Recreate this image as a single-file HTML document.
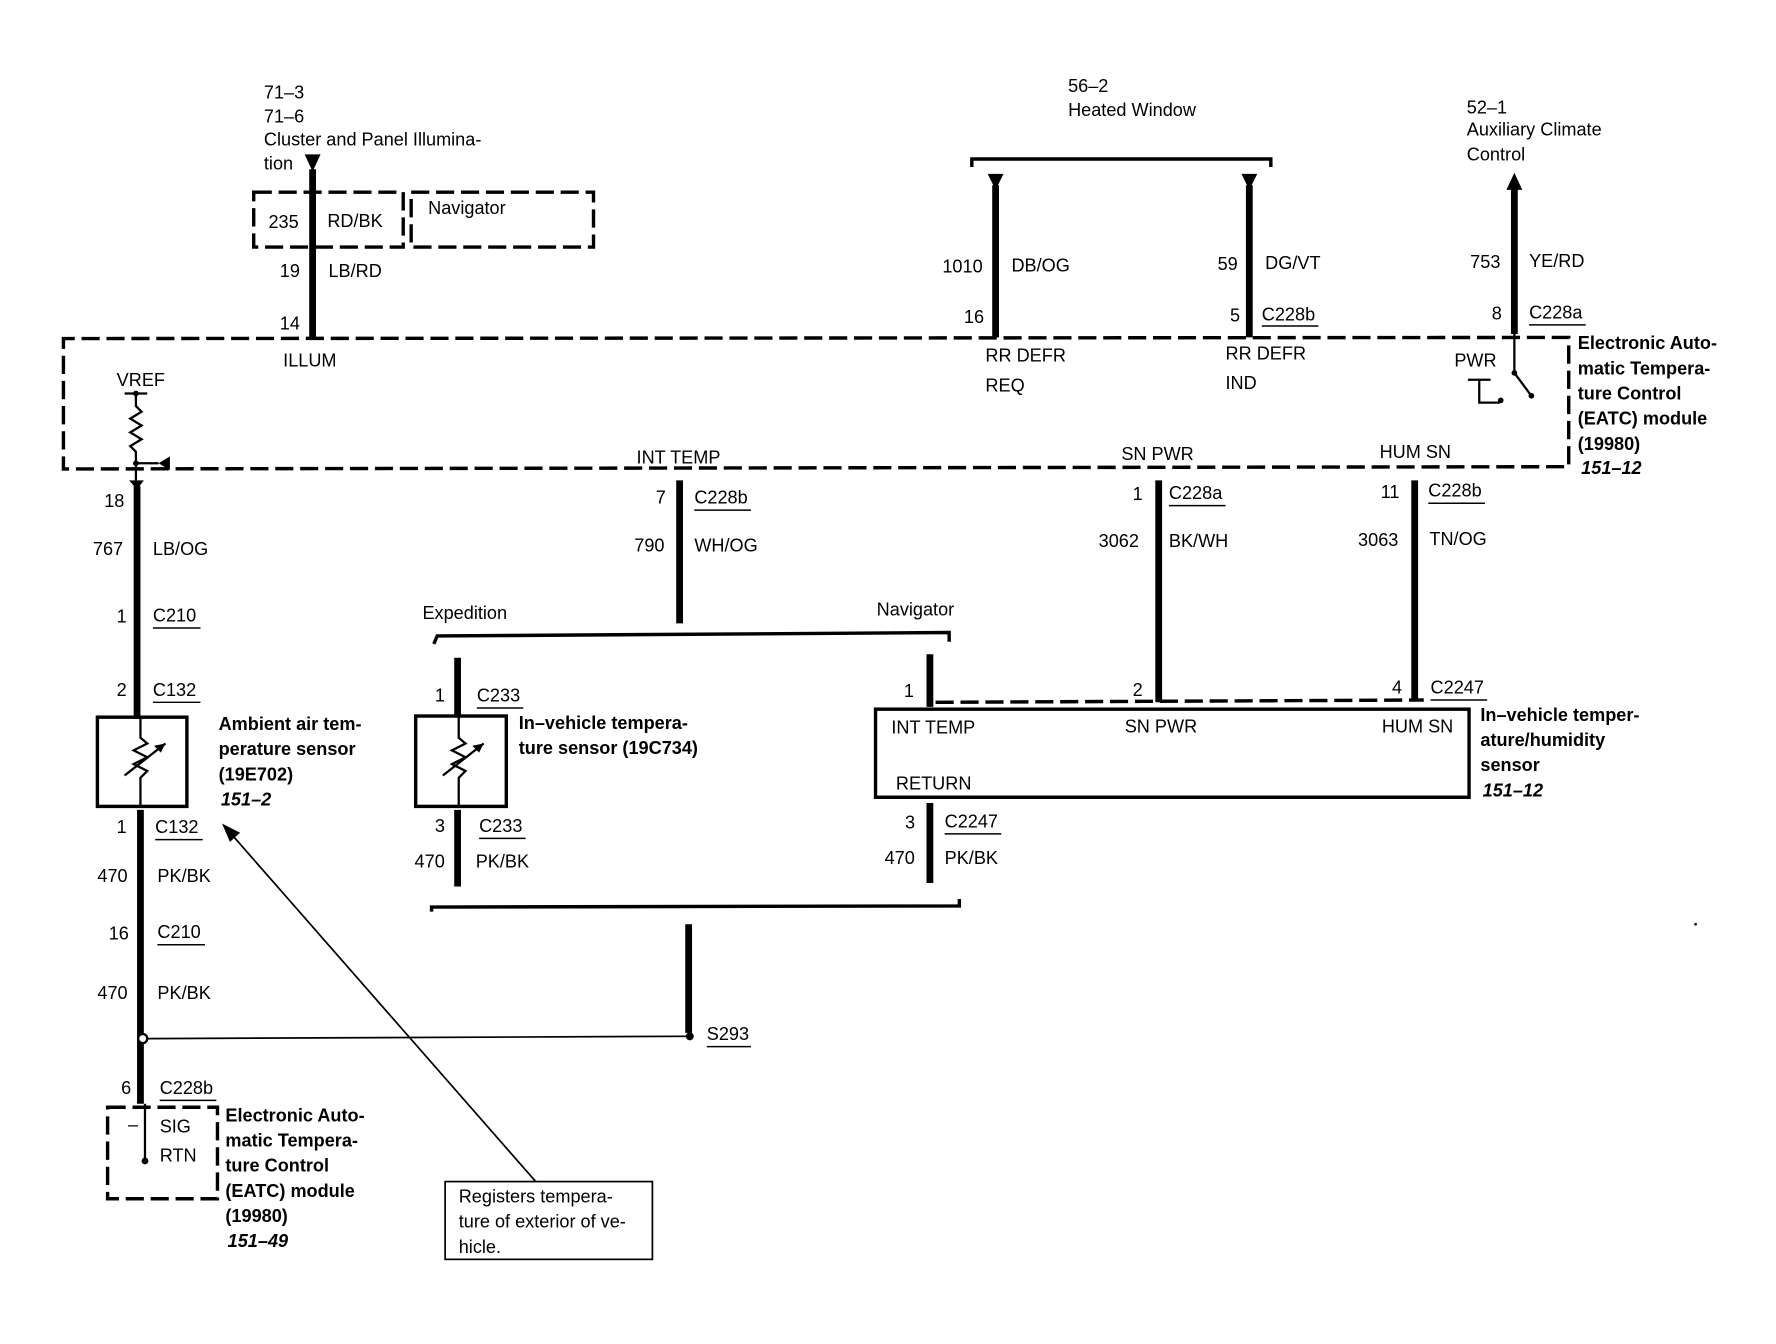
<!DOCTYPE html>
<html><head><meta charset="utf-8"><style>
html,body{margin:0;padding:0;background:#fff;}
svg{display:block;}
text{font-family:"Liberation Sans",sans-serif;font-size:16px;fill:#000;dominant-baseline:central;}
.b{font-weight:bold;}
.i{font-style:italic;font-weight:bold;}
.w{stroke:#000;stroke-width:6;fill:none;}
.t{stroke:#000;stroke-width:2;fill:none;}
.d{stroke:#000;stroke-width:3;fill:none;stroke-dasharray:16 6;}
.u{stroke:#000;stroke-width:1.3;}
</style></head><body>
<svg width="1776" height="1344" viewBox="0 0 1568 1175" preserveAspectRatio="none" xmlns="http://www.w3.org/2000/svg">
<!-- top left -->
<text x="233" y="81">71–3</text>
<text x="233" y="102">71–6</text>
<text x="233" y="122">Cluster and Panel Illumina-</text>
<text x="233" y="143">tion</text>
<polygon points="269,135 283,135 276,150"/>
<line class="w" x1="276" y1="148" x2="276" y2="296"/>
<rect class="d" x="224" y="168" width="132" height="48"/>
<rect class="d" x="363" y="168" width="161" height="48"/>
<text x="237" y="194">235</text><text x="289" y="193">RD/BK</text>
<text x="378" y="182">Navigator</text>
<text x="247" y="237">19</text><text x="290" y="237">LB/RD</text>
<text x="247" y="283">14</text>
<text x="250" y="315">ILLUM</text>

<!-- main EATC dashed box -->
<path class="d" d="M56,302 L56,296 L1385,295 L1385,408 L56,410 Z"/>

<!-- heated window -->
<text x="943" y="75">56–2</text>
<text x="943" y="96">Heated Window</text>
<path class="t" d="M858,146 L858,139 L1122,139 L1122,146" style="stroke-width:3"/>
<polygon points="872,152 886,152 879,166"/><polygon points="1096,152 1110,152 1103,166"/>
<line class="w" x1="879" y1="162" x2="879" y2="295"/>
<line class="w" x1="1103" y1="162" x2="1103" y2="295"/>
<text x="832" y="233">1010</text><text x="893" y="232">DB/OG</text>
<text x="851" y="277">16</text>
<text x="870" y="311">RR DEFR</text><text x="870" y="337">REQ</text>
<text x="1075" y="231">59</text><text x="1117" y="230">DG/VT</text>
<text x="1086" y="276">5</text><text x="1114" y="275">C228b</text><line class="u" x1="1114" y1="285" x2="1164" y2="285"/>
<text x="1082" y="309">RR DEFR</text><text x="1082" y="335">IND</text>

<!-- aux climate -->
<text x="1295" y="94">52–1</text>
<text x="1295" y="113">Auxiliary Climate</text>
<text x="1295" y="135">Control</text>
<polygon points="1330,166 1344,166 1337,151"/>
<line class="w" x1="1337" y1="162" x2="1337" y2="292"/>
<text x="1298" y="229">753</text><text x="1350" y="228">YE/RD</text>
<text x="1317" y="274">8</text><text x="1350" y="273">C228a</text><line class="u" x1="1350" y1="284" x2="1400" y2="284"/>
<line class="t" x1="1337" y1="290" x2="1337" y2="326"/>
<circle cx="1337" cy="326" r="2.5"/><line class="t" x1="1337" y1="326" x2="1352" y2="346"/><circle cx="1352" cy="346" r="2.5"/>
<text x="1284" y="315">PWR</text>
<path class="t" d="M1296,332 L1316,332 M1306,332 L1306,352 L1324,352"/><circle cx="1325" cy="350" r="2.5"/>
<text class="b" x="1393" y="300">Electronic Auto-</text>
<text class="b" x="1393" y="322">matic Tempera-</text>
<text class="b" x="1393" y="344">ture Control</text>
<text class="b" x="1393" y="366">(EATC) module</text>
<text class="b" x="1393" y="388">(19980)</text>
<text class="i" x="1396" y="409">151–12</text>

<!-- VREF -->
<text x="103" y="332">VREF</text>
<path class="t" d="M110,344 L130,344 M120,344 L120,355 L125,360 L115,366 L125,372 L115,378 L125,384 L115,390 L120,395 L120,420 M120,405 L140,405"/>
<circle cx="120" cy="344" r="2.5"/><circle cx="120" cy="405" r="2.5"/>
<polygon points="140,405 150,399 150,411"/>
<polygon points="114,420 127,420 121,428"/>

<!-- left column -->
<line class="w" x1="121" y1="425" x2="121" y2="627"/>
<text x="92" y="438">18</text>
<text x="82" y="480">767</text><text x="135" y="480">LB/OG</text>
<text x="103" y="539">1</text><text x="135" y="538">C210</text><line class="u" x1="135" y1="549" x2="177" y2="549"/>
<text x="103" y="603">2</text><text x="135" y="603">C132</text><line class="u" x1="135" y1="614" x2="177" y2="614"/>
<rect x="86" y="627" width="79" height="78" fill="none" stroke="#000" stroke-width="3"/>
<path class="t" d="M124,627 L124,645 L130,650 L118,656 L130,662 L118,668 L130,674 L124,680 L124,705 M110,678 L146,650"/>
<polygon points="146,650 136,652 142,658"/>
<text class="b" x="193" y="633">Ambient air tem-</text>
<text class="b" x="193" y="655">perature sensor</text>
<text class="b" x="193" y="677">(19E702)</text>
<text class="i" x="195" y="699">151–2</text>
<line class="w" x1="124" y1="708" x2="124" y2="965"/>
<text x="103" y="723">1</text><text x="137" y="723">C132</text><line class="u" x1="137" y1="734" x2="179" y2="734"/>
<text x="86" y="766">470</text><text x="139" y="766">PK/BK</text>
<text x="96" y="816">16</text><text x="139" y="815">C210</text><line class="u" x1="139" y1="826" x2="181" y2="826"/>
<text x="86" y="868">470</text><text x="139" y="868">PK/BK</text>
<circle cx="126" cy="908" r="4" fill="#fff" stroke="#000" stroke-width="2"/>
<line class="t" x1="130" y1="908" x2="606" y2="906" style="stroke-width:1.5"/>
<text x="107" y="951">6</text><text x="141" y="951">C228b</text><line class="u" x1="141" y1="962" x2="191" y2="962"/>
<rect class="d" x="95" y="968" width="97" height="80"/>
<line class="t" x1="128" y1="965" x2="128" y2="1015"/><circle cx="128" cy="1015" r="3"/>
<text x="113" y="983">–</text><text x="141" y="985">SIG</text><text x="141" y="1010">RTN</text>
<text class="b" x="199" y="975">Electronic Auto-</text>
<text class="b" x="199" y="997">matic Tempera-</text>
<text class="b" x="199" y="1019">ture Control</text>
<text class="b" x="199" y="1041">(EATC) module</text>
<text class="b" x="199" y="1063">(19980)</text>
<text class="i" x="201" y="1085">151–49</text>

<!-- callout -->
<rect x="393" y="1033" width="183" height="68" fill="none" stroke="#000" stroke-width="1.5"/>
<text x="405" y="1046">Registers tempera-</text>
<text x="405" y="1068">ture of exterior of ve-</text>
<text x="405" y="1090">hicle.</text>
<line class="t" x1="473" y1="1033" x2="205" y2="730" style="stroke-width:1.5"/>
<polygon points="196,720 212,728 203,736"/>

<!-- INT TEMP -->
<text x="562" y="400">INT TEMP</text>
<line class="w" x1="600" y1="420" x2="600" y2="545"/>
<text x="579" y="435">7</text><text x="613" y="435">C228b</text><line class="u" x1="613" y1="446" x2="663" y2="446"/>
<text x="560" y="477">790</text><text x="613" y="477">WH/OG</text>
<path class="t" d="M383,563 L386,556 L838,553 L838,561" style="stroke-width:3"/>
<text x="373" y="536">Expedition</text>
<text x="774" y="533">Navigator</text>

<!-- expedition sensor -->
<line class="w" x1="404" y1="575" x2="404" y2="626"/>
<text x="384" y="608">1</text><text x="421" y="608">C233</text><line class="u" x1="421" y1="619" x2="462" y2="619"/>
<rect x="367" y="626" width="80" height="79" fill="none" stroke="#000" stroke-width="3"/>
<path class="t" d="M405,626 L405,645 L411,650 L399,656 L411,662 L399,668 L411,674 L405,680 L405,705 M391,678 L427,650"/>
<polygon points="427,650 417,652 423,658"/>
<text class="b" x="458" y="632">In–vehicle tempera-</text>
<text class="b" x="458" y="654">ture sensor (19C734)</text>
<line class="w" x1="404" y1="708" x2="404" y2="775"/>
<text x="384" y="722">3</text><text x="423" y="722">C233</text><line class="u" x1="423" y1="733" x2="464" y2="733"/>
<text x="366" y="753">470</text><text x="420" y="753">PK/BK</text>

<!-- navigator humidity sensor -->
<line class="w" x1="821" y1="572" x2="821" y2="618"/>
<text x="798" y="604">1</text>
<path class="d" d="M826,614 L1257,612"/>
<rect x="773" y="620" width="524" height="77" fill="none" stroke="#000" stroke-width="3"/>
<text x="787" y="636">INT TEMP</text><text x="993" y="635">SN PWR</text><text x="1220" y="635">HUM SN</text>
<text x="791" y="685">RETURN</text>
<text x="1000" y="603">2</text><text x="1229" y="601">4</text>
<text x="1263" y="601">C2247</text><line class="u" x1="1263" y1="612" x2="1313" y2="612"/>
<text class="b" x="1307" y="625">In–vehicle temper-</text>
<text class="b" x="1307" y="647">ature/humidity</text>
<text class="b" x="1307" y="669">sensor</text>
<text class="i" x="1309" y="691">151–12</text>
<line class="w" x1="821" y1="702" x2="821" y2="772"/>
<text x="799" y="719">3</text><text x="834" y="718">C2247</text><line class="u" x1="834" y1="729" x2="884" y2="729"/>
<text x="781" y="750">470</text><text x="834" y="750">PK/BK</text>

<!-- bottom bracket -->
<path class="t" d="M381,797 L381,793 L847,792 L847,786" style="stroke-width:3"/>
<line class="w" x1="608" y1="808" x2="608" y2="903"/>
<circle cx="609" cy="906" r="3.5"/>
<text x="624" y="904">S293</text><line class="u" x1="624" y1="915" x2="663" y2="915"/>

<!-- SN PWR / HUM SN -->
<text x="990" y="397">SN PWR</text>
<line class="w" x1="1023" y1="420" x2="1023" y2="614"/>
<text x="1000" y="432">1</text><text x="1032" y="431">C228a</text><line class="u" x1="1032" y1="442" x2="1082" y2="442"/>
<text x="970" y="473">3062</text><text x="1032" y="473">BK/WH</text>
<text x="1218" y="395">HUM SN</text>
<line class="w" x1="1249" y1="420" x2="1249" y2="612"/>
<text x="1219" y="430">11</text><text x="1261" y="429">C228b</text><line class="u" x1="1261" y1="440" x2="1311" y2="440"/>
<text x="1199" y="472">3063</text><text x="1262" y="471">TN/OG</text>
<circle cx="1497" cy="808" r="1.2"/>
</svg>
</body></html>
